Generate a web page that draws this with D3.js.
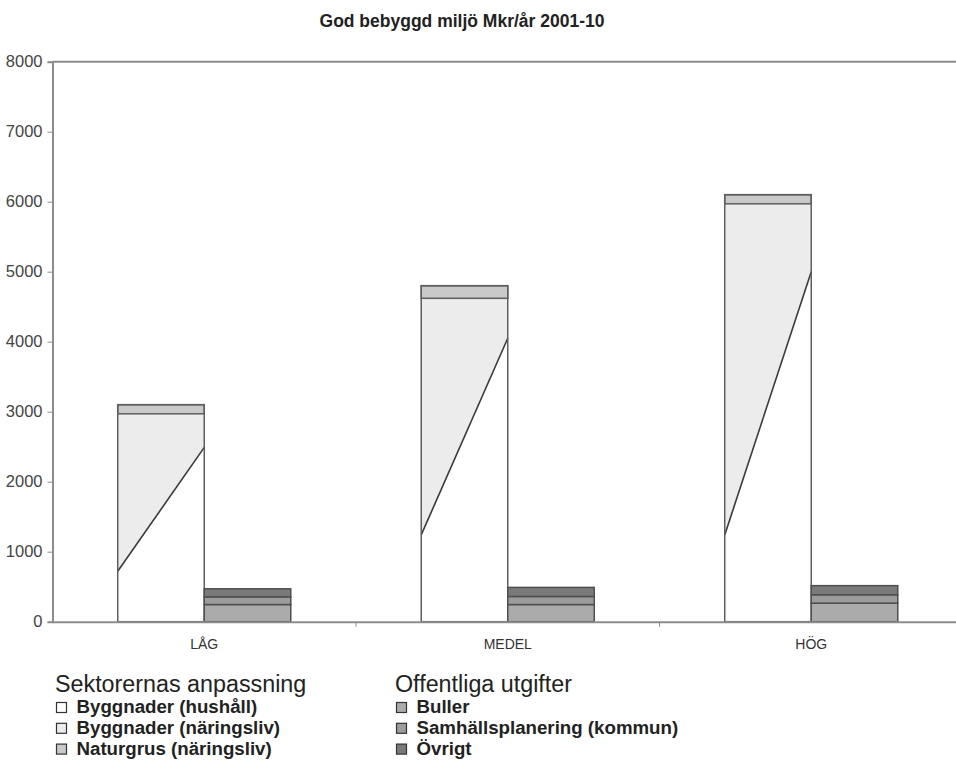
<!DOCTYPE html>
<html lang="sv">
<head>
<meta charset="utf-8">
<title>God bebyggd miljö Mkr/år 2001-10</title>
<script src="https://cdn.jsdelivr.net/npm/d3@7"></script>
<style>
  html, body { margin: 0; padding: 0; background: #fff; }
  svg { display: block; font-family: "Liberation Sans", Arial, Helvetica, sans-serif; }
</style>
</head>
<body>
<svg id="chart" width="956" height="771"></svg>
<script>
// Scenarios (x categories)
const categories = ["LÅG", "MEDEL", "HÖG"];

// Sektorernas anpassning (Mkr/år): building adaptation shown as a range
// for households (low..high), the combined building total, and natural gravel on top
const hushallLow  = [720, 1240, 1240];
const hushallHigh = [2490, 4050, 5000];
const byggnaderTotal = [2970, 4620, 5970];
const naturgrus = [130, 180, 130];

// Offentliga utgifter (Mkr/år), stacked bottom to top
const buller = [245, 245, 265];
const samhallsplanering = [110, 115, 120];
const ovrigt = [115, 130, 130];

const yTicks = [0, 1000, 2000, 3000, 4000, 5000, 6000, 7000, 8000];

const title = "God bebyggd miljö Mkr/år 2001-10";
const legendSektor = { heading: "Sektorernas anpassning",
  items: ["Byggnader (hushåll)", "Byggnader (näringsliv)", "Naturgrus (näringsliv)"] };
const legendOffentlig = { heading: "Offentliga utgifter",
  items: ["Buller", "Samhällsplanering (kommun)", "Övrigt"] };

const colors = {
  hushall: "#ffffff", naringsliv: "#ececec", naturgrus: "#c9c9c9",
  buller: "#ababab", samhall: "#9c9c9c", ovrigt: "#7a7a7a"
};
const strokeBar = "#5e5e5e";
const axisColor = "#8c8c8c";

const svg = d3.select("#chart");

const plot = { left: 52.5, right: 963, top: 61.7, bottom: 621.7 };

const x = d3.scaleBand().domain(categories).range([plot.left, plot.right]).padding(0);
const xInner = d3.scaleBand().domain(["sektor", "offentlig"])
  .range([0, x.bandwidth()]).paddingInner(0).paddingOuter(0.754);
const y = d3.scaleLinear().domain([0, 8000]).range([plot.bottom, plot.top]);

// Title
svg.append("text")
  .attr("x", 462).attr("y", 27)
  .attr("text-anchor", "middle")
  .attr("font-size", 17.5).attr("font-weight", "bold").attr("fill", "#222")
  .text(title);

// Plot frame top line
svg.append("line")
  .attr("x1", plot.left).attr("x2", plot.right)
  .attr("y1", plot.top).attr("y2", plot.top)
  .attr("stroke", axisColor).attr("stroke-width", 2);

// Y axis
const yAxis = d3.axisLeft(y).tickValues(yTicks).tickSize(5).tickPadding(5).tickFormat(d3.format("d"));
const yg = svg.append("g").attr("transform", `translate(${plot.left},0)`).call(yAxis);
yg.select(".domain").attr("stroke", axisColor).attr("stroke-width", 2);
yg.selectAll(".tick line").attr("stroke", axisColor).attr("stroke-width", 1);
yg.selectAll(".tick text").attr("font-size", 16.5).attr("fill", "#444")
  .attr("font-family", "\"Liberation Sans\", Arial, sans-serif");

// Bars
const groups = svg.append("g").selectAll("g.cat")
  .data(categories.map((c, i) => ({ c, i })))
  .join("g").attr("class", "cat")
  .attr("transform", d => `translate(${x(d.c)},0)`);

groups.each(function(d) {
  const g = d3.select(this);
  const i = d.i;
  const x0 = xInner("sektor"), w = xInner.bandwidth();
  const x1 = x0 + w;

  // household building share: white up to the building total
  g.append("rect")
    .attr("x", x0).attr("width", w)
    .attr("y", y(byggnaderTotal[i])).attr("height", y(0) - y(byggnaderTotal[i]))
    .attr("fill", colors.hushall);

  // business building share above the household range line
  g.append("path")
    .attr("d", d3.line()([
      [x0, y(hushallLow[i])], [x1, y(hushallHigh[i])],
      [x1, y(byggnaderTotal[i])], [x0, y(byggnaderTotal[i])]
    ]) + "Z")
    .attr("fill", colors.naringsliv);

  // range line for households
  g.append("line")
    .attr("x1", x0).attr("y1", y(hushallLow[i]))
    .attr("x2", x1).attr("y2", y(hushallHigh[i]))
    .attr("stroke", "#3a3a3a").attr("stroke-width", 1.6);

  // natural gravel
  const top = byggnaderTotal[i] + naturgrus[i];
  g.append("rect")
    .attr("x", x0).attr("width", w)
    .attr("y", y(top)).attr("height", y(byggnaderTotal[i]) - y(top))
    .attr("fill", colors.naturgrus).attr("stroke", strokeBar).attr("stroke-width", 1.5);

  // outline of whole sector bar
  g.append("rect")
    .attr("x", x0).attr("width", w)
    .attr("y", y(top)).attr("height", y(0) - y(top))
    .attr("fill", "none").attr("stroke", strokeBar).attr("stroke-width", 1.5);

  // public spending stack
  const ox = xInner("offentlig");
  const parts = [
    [buller[i], colors.buller],
    [samhallsplanering[i], colors.samhall],
    [ovrigt[i], colors.ovrigt]
  ];
  let base = 0;
  parts.forEach(([v, col]) => {
    g.append("rect")
      .attr("x", ox).attr("width", w)
      .attr("y", y(base + v)).attr("height", y(base) - y(base + v))
      .attr("fill", col).attr("stroke", "#4f4f4f").attr("stroke-width", 1.5);
    base += v;
  });
});

// X axis
const xAxis = d3.axisBottom(x).tickSize(0).tickPadding(17);
const xg = svg.append("g").attr("transform", `translate(0,${plot.bottom})`).call(xAxis);
xg.select(".domain").attr("stroke", axisColor).attr("stroke-width", 2);
xg.selectAll(".tick text").attr("font-size", 14).attr("fill", "#333")
  .attr("font-family", "\"Liberation Sans\", Arial, sans-serif");
// category separators
xg.selectAll("line.sep")
  .data(categories.slice(1))
  .join("line").attr("class", "sep")
  .attr("x1", d => x(d)).attr("x2", d => x(d))
  .attr("y1", 0).attr("y2", 5)
  .attr("stroke", axisColor).attr("stroke-width", 1);

// Legends
function drawLegend(cfg, lx, fills) {
  const lg = svg.append("g").attr("transform", `translate(${lx},0)`);
  lg.append("text").attr("x", 0).attr("y", 692)
    .attr("font-size", 23.3).attr("fill", "#222").text(cfg.heading);
  cfg.items.forEach((t, k) => {
    const by = 713 + k * 20.8;
    lg.append("rect").attr("x", 1.5).attr("y", by - 10.5).attr("width", 10).attr("height", 10)
      .attr("fill", fills[k]).attr("stroke", "#333").attr("stroke-width", 1.2);
    lg.append("text").attr("x", 21.5).attr("y", by)
      .attr("font-size", 18.7).attr("font-weight", "bold").attr("fill", "#222").text(t);
  });
}
drawLegend(legendSektor, 55, [colors.hushall, colors.naringsliv, colors.naturgrus]);
drawLegend(legendOffentlig, 395, [colors.buller, colors.samhall, colors.ovrigt]);
</script>
</body>
</html>
